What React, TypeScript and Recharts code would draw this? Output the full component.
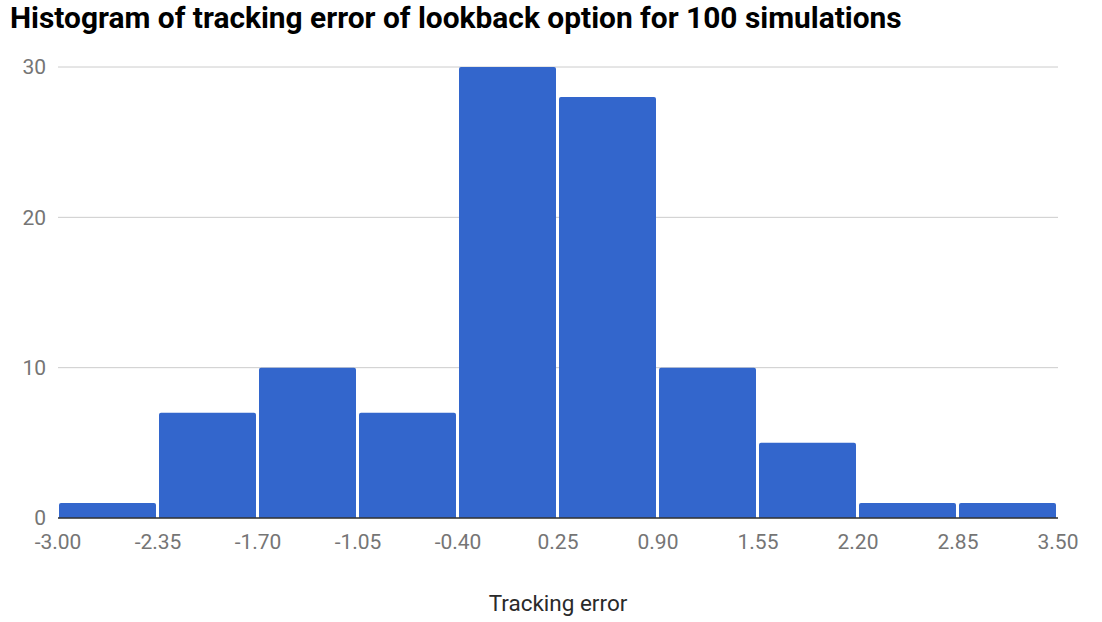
import React from 'react';
import { BarChart, Bar, XAxis, YAxis, CartesianGrid, Label } from 'recharts';

const TITLE = 'Histogram of tracking error of lookback option for 100 simulations';
const X_LABEL = 'Tracking error';

// bin edges and the count in each bin
const binEdges = [-3.0, -2.35, -1.7, -1.05, -0.4, 0.25, 0.9, 1.55, 2.2, 2.85, 3.5];
const counts = [1, 7, 10, 7, 30, 28, 10, 5, 1, 1];
const yTicks = [0, 10, 20, 30];

const CHART_W = 1102;
const CHART_H = 622;
const MARGIN = { top: 67, right: 44, left: 0, bottom: 0 };
const Y_AXIS_W = 58;
const PLOT_W = CHART_W - MARGIN.left - MARGIN.right - Y_AXIS_W;

const data = counts.map((count, i) => ({
  mid: (binEdges[i] + binEdges[i + 1]) / 2,
  count,
}));

const barSize = PLOT_W / counts.length - 3;

export default function App() {
  return (
    <div style={{ position: 'absolute', left: 0, top: 0, width: CHART_W, height: CHART_H, background: '#fff', fontFamily: 'Roboto, sans-serif' }}>
      <div style={{ position: 'absolute', left: 10, top: 0, fontSize: 29.9, fontWeight: 700, color: '#000', lineHeight: 'normal', whiteSpace: 'nowrap' }}>
        {TITLE}
      </div>
      <BarChart width={CHART_W} height={CHART_H} data={data} margin={MARGIN}>
        <CartesianGrid horizontal vertical={false} stroke="#cccccc" />
        <XAxis
          dataKey="mid"
          type="number"
          domain={[binEdges[0], binEdges[binEdges.length - 1]]}
          ticks={binEdges}
          interval={0}
          tickFormatter={(v: number) => v.toFixed(2)}
          tickLine={false}
          axisLine={{ stroke: '#333333', strokeWidth: 1.5 }}
          tick={{ fill: '#757575', fontSize: 21 }}
          tickMargin={10}
          height={104}
        >
          <Label value={X_LABEL} position="insideTop" offset={77} fill="#2a2a2a" fontSize={22.5} />
        </XAxis>
        <YAxis
          domain={[0, 30]}
          ticks={yTicks}
          width={Y_AXIS_W}
          tickLine={false}
          axisLine={false}
          tick={{ fill: '#757575', fontSize: 21 }}
          tickMargin={6}
        />
        <Bar dataKey="count" fill="#3366cc" barSize={barSize} radius={[2, 2, 0, 0]} isAnimationActive={false} />
      </BarChart>
    </div>
  );
}
